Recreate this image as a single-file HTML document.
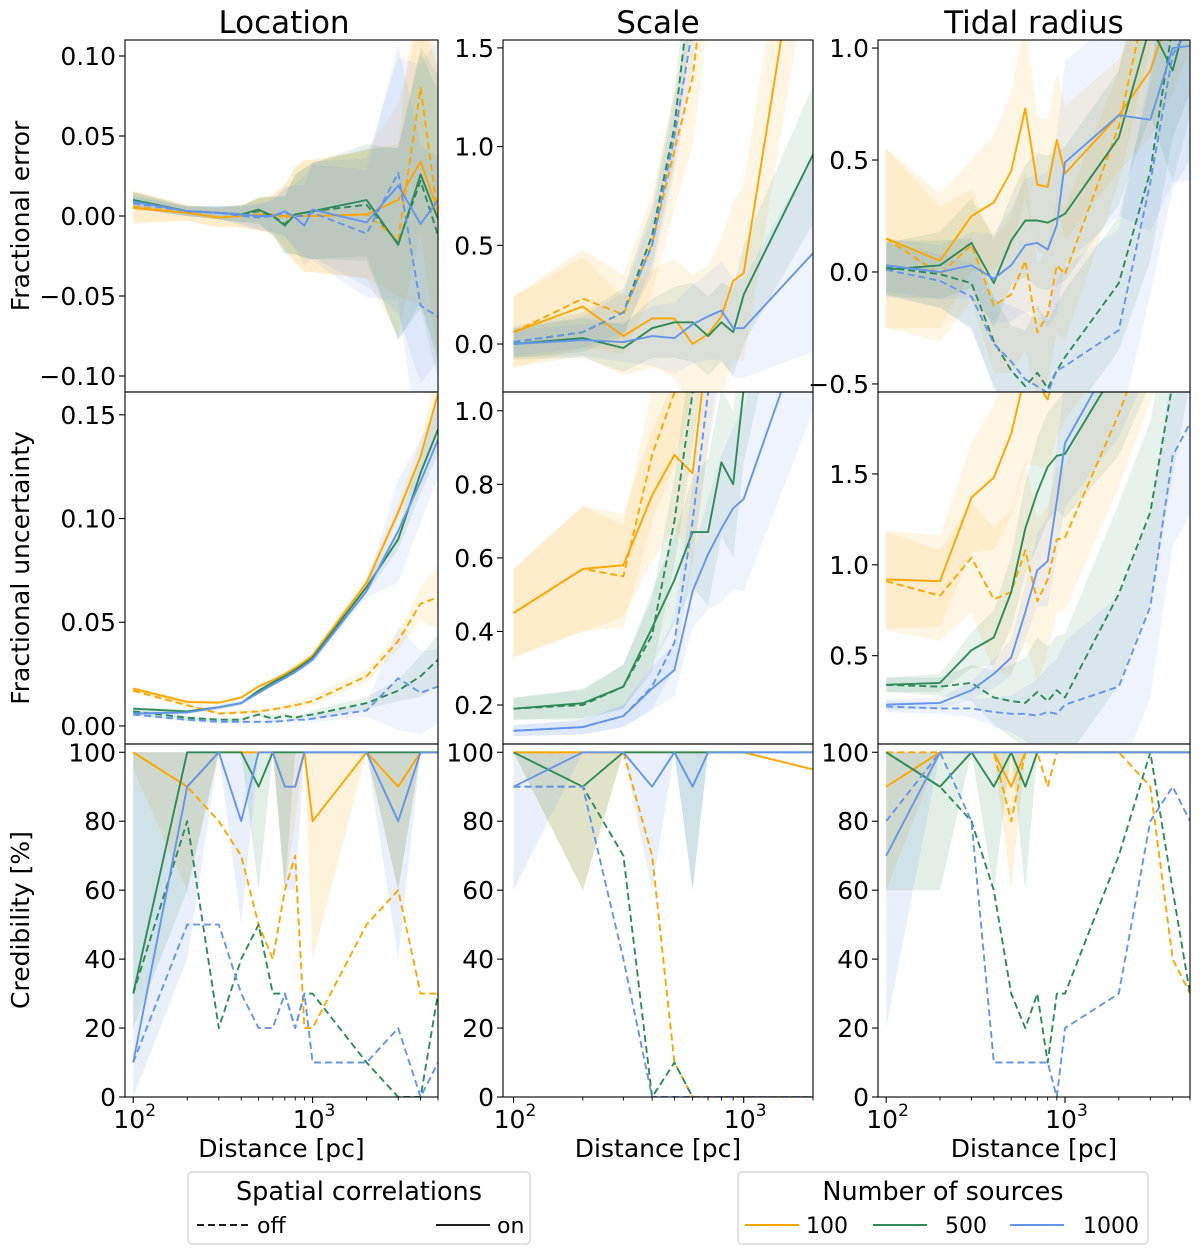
<!DOCTYPE html>
<html><head><meta charset="utf-8">
<style>
html,body{margin:0;padding:0;background:#fff;}
svg{display:block;font-family:"DejaVu Sans","Liberation Sans",sans-serif;}
</style></head>
<body>
<svg id="chart" width="1200" height="1254" viewBox="0 0 1200 1254" xmlns="http://www.w3.org/2000/svg">
<g id="layer"></g>
<g>
  <rect x="188" y="1172" width="342" height="72" rx="4" fill="#fff" stroke="#d0d0d0" stroke-width="1.2"/>
  <text x="359" y="1200" font-size="25.5" text-anchor="middle">Spatial correlations</text>
  <line x1="197" y1="1225" x2="251" y2="1225" stroke="#000" stroke-width="1.8" stroke-dasharray="7,4"/>
  <text x="257" y="1233" font-size="22">off</text>
  <line x1="436" y1="1225" x2="490" y2="1225" stroke="#000" stroke-width="1.8"/>
  <text x="497" y="1233" font-size="22">on</text>
</g>
<g>
  <rect x="738" y="1172" width="410" height="72" rx="4" fill="#fff" stroke="#d0d0d0" stroke-width="1.2"/>
  <text x="943" y="1200" font-size="25.5" text-anchor="middle">Number of sources</text>
  <line x1="745" y1="1225" x2="799" y2="1225" stroke="#FFA500" stroke-width="2"/>
  <text x="806" y="1233" font-size="22">100</text>
  <line x1="873" y1="1225" x2="927" y2="1225" stroke="#2E8B57" stroke-width="2"/>
  <text x="945" y="1233" font-size="22">500</text>
  <line x1="1010" y1="1225" x2="1064" y2="1225" stroke="#6495ED" stroke-width="2"/>
  <text x="1083" y="1233" font-size="22">1000</text>
</g>
</svg>
<script>
// ---------- data ----------
const distances = [100,200,300,400,500,600,700,800,900,1000,2000,3000,4000,5000];
const seriesKeys = ['100-on','100-off','500-on','500-off','1000-on','1000-off'];

// Location - fractional error
const locErr100On  = [0.005,0.002,-0.001,0.000,0.001,0.001,0.000,0.001,0.000,0.000,0.001,0.010,0.034,0.003];
const locErr100Off = [0.006,0.002,-0.001,0.000,0.001,0.001,-0.001,0.000,0.000,0.000,0.001,-0.015,0.080,0.000];
const locErr500On  = [0.010,0.003,0.002,0.001,0.004,0.000,-0.006,0.001,0.002,0.003,0.010,-0.018,0.026,-0.002];
const locErr500Off = [0.010,0.003,0.002,0.001,0.003,0.000,-0.005,0.001,0.002,0.003,0.007,-0.017,0.022,-0.012];
const locErr1000On = [0.009,0.003,0.002,0.001,0.000,0.000,0.003,-0.001,-0.006,0.004,-0.004,0.019,-0.005,0.010];
const locErr1000Off= [0.008,0.003,0.002,0.000,-0.001,0.000,0.002,0.000,0.000,0.002,-0.011,0.027,-0.056,-0.063];
const locErrW100  = [0.010,0.005,0.006,0.007,0.010,0.012,0.020,0.030,0.035,0.035,0.040,0.060,0.090,0.090];
const locErrW500  = [0.005,0.003,0.004,0.005,0.008,0.012,0.018,0.025,0.028,0.030,0.035,0.060,0.080,0.090];
const locErrW1000 = [0.004,0.003,0.004,0.006,0.008,0.010,0.015,0.020,0.025,0.030,0.040,0.080,0.100,0.100];

// Scale - fractional error
const sclErr100On  = [0.06,0.19,0.04,0.13,0.13,0.00,0.05,0.14,0.32,0.36,2.55,3.5,4,4.5];
const sclErr100Off = [0.06,0.23,0.15,0.51,0.98,1.35,2.0,2.5,3,3.5,5,6,7,8];
const sclErr500On  = [0.00,0.03,-0.02,0.08,0.11,0.11,0.04,0.11,0.06,0.25,0.96,1.3,1.6,1.8];
const sclErr500Off = [0.01,0.06,0.16,0.55,1.10,1.90,2.6,3,3.5,4,5,6,7,8];
const sclErr1000On = [0.00,0.02,0.01,0.04,0.03,0.10,0.14,0.17,0.08,0.08,0.46,0.9,1.1,1.3];
const sclErr1000Off= [0.01,0.06,0.16,0.50,1.05,1.60,2.4,3,3.5,4,5,6,7,8];
const sclErrW100  = [0.18,0.25,0.20,0.25,0.30,0.35,0.35,0.40,0.40,0.45,0.50,0.60,0.60,0.60];
const sclErrW500  = [0.08,0.10,0.12,0.15,0.18,0.20,0.20,0.20,0.22,0.25,0.35,0.40,0.50,0.50];
const sclErrW1000 = [0.07,0.08,0.10,0.15,0.18,0.20,0.22,0.25,0.25,0.25,0.50,0.60,0.70,0.70];

// Tidal radius - fractional error
const tidErr100On  = [0.15,0.05,0.25,0.31,0.45,0.73,0.39,0.38,0.59,0.44,0.70,0.90,1.20,1.40];
const tidErr100Off = [0.15,-0.01,0.12,-0.15,-0.10,0.05,-0.27,-0.19,0.03,-0.01,0.65,1.30,1.60,1.80];
const tidErr500On  = [0.01,0.03,0.13,-0.05,0.14,0.23,0.23,0.22,0.24,0.26,0.60,1.10,0.90,1.20];
const tidErr500Off = [0.02,-0.01,-0.05,-0.31,-0.44,-0.51,-0.45,-0.52,-0.44,-0.38,-0.05,0.45,1.10,1.30];
const tidErr1000On = [0.03,0.00,0.03,-0.03,0.03,0.12,0.13,0.10,0.21,0.49,0.70,0.68,1.00,1.01];
const tidErr1000Off= [0.01,-0.04,-0.11,-0.32,-0.40,-0.48,-0.51,-0.54,-0.44,-0.42,-0.26,0.40,0.97,1.10];
const tidErrW100  = [0.40,0.30,0.25,0.30,0.35,0.40,0.30,0.30,0.30,0.30,0.25,0.30,0.40,0.40];
const tidErrW500  = [0.12,0.15,0.20,0.20,0.20,0.25,0.30,0.30,0.30,0.30,0.30,0.40,0.50,0.50];
const tidErrW1000 = [0.12,0.12,0.15,0.20,0.25,0.30,0.30,0.35,0.40,0.45,0.45,0.50,0.60,0.60];

// Location - fractional uncertainty
const locUnc100On  = [0.018,0.0116,0.0112,0.0137,0.019,0.022,0.025,0.028,0.031,0.034,0.069,0.103,0.130,0.160];
const locUnc100Off = [0.017,0.010,0.006,0.0065,0.007,0.008,0.009,0.010,0.011,0.012,0.024,0.041,0.059,0.062];
const locUnc500On  = [0.0083,0.007,0.009,0.011,0.017,0.021,0.024,0.027,0.030,0.033,0.067,0.090,0.122,0.143];
const locUnc500Off = [0.007,0.004,0.003,0.003,0.0055,0.0035,0.005,0.004,0.005,0.0055,0.011,0.017,0.024,0.032];
const locUnc1000On = [0.006,0.0065,0.009,0.011,0.016,0.020,0.023,0.026,0.029,0.032,0.065,0.094,0.118,0.138];
const locUnc1000Off= [0.0055,0.003,0.002,0.002,0.002,0.002,0.0025,0.003,0.003,0.0035,0.0075,0.023,0.016,0.019];
const locUncW100  = [0.001,0.001,0.001,0.001,0.001,0.001,0.001,0.002,0.002,0.002,0.003,0.004,0.008,0.016];
const locUncW500  = [0.001,0.001,0.001,0.001,0.001,0.002,0.001,0.001,0.001,0.002,0.003,0.005,0.010,0.012];
const locUncW1000 = [0.001,0.001,0.001,0.001,0.001,0.001,0.001,0.001,0.001,0.002,0.003,0.025,0.020,0.018];

// Scale - fractional uncertainty
const sclUnc100On  = [0.45,0.57,0.58,0.77,0.88,0.83,1.2,1.5,1.7,1.9,2.5,3,3,3];
const sclUnc100Off = [0.45,0.57,0.55,0.88,1.05,1.3,1.6,1.8,2,2.2,3,3,3,3];
const sclUnc500On  = [0.19,0.205,0.25,0.41,0.54,0.67,0.67,0.86,0.80,1.06,2.0,2.5,3,3];
const sclUnc500Off = [0.19,0.20,0.25,0.39,0.70,1.05,1.4,1.7,2,2.2,3,3,3,3];
const sclUnc1000On = [0.13,0.14,0.17,0.245,0.295,0.51,0.61,0.68,0.735,0.76,1.3,1.8,2,2];
const sclUnc1000Off= [0.13,0.14,0.17,0.25,0.37,0.70,1.05,1.3,1.5,1.7,2.5,3,3,3];
const sclUncW100  = [0.12,0.17,0.14,0.18,0.20,0.25,0.30,0.30,0.30,0.30,0.40,0.40,0.40,0.40];
const sclUncW500  = [0.03,0.04,0.06,0.10,0.12,0.15,0.20,0.20,0.20,0.20,0.30,0.30,0.30,0.30];
const sclUncW1000 = [0.015,0.02,0.03,0.06,0.07,0.10,0.15,0.20,0.22,0.25,0.30,0.30,0.30,0.30];

// Tidal radius - fractional uncertainty
const tidUnc100On  = [0.92,0.91,1.37,1.48,1.72,2.05,2.00,1.91,2.10,2.20,2.60,3.00,3.20,3.40];
const tidUnc100Off = [0.91,0.83,1.04,0.81,0.85,1.08,0.80,0.92,1.14,1.15,1.83,2.30,2.60,2.80];
const tidUnc500On  = [0.34,0.35,0.53,0.60,0.85,1.20,1.40,1.54,1.60,1.61,2.10,2.50,2.80,3.00];
const tidUnc500Off = [0.34,0.33,0.35,0.27,0.25,0.24,0.30,0.25,0.31,0.27,0.84,1.29,2.00,2.50];
const tidUnc1000On = [0.23,0.24,0.31,0.40,0.49,0.74,0.97,1.02,1.35,1.67,2.20,2.60,2.80,3.00];
const tidUnc1000Off= [0.22,0.21,0.21,0.19,0.18,0.18,0.17,0.19,0.18,0.23,0.33,0.77,1.60,1.78];
const tidUncW100  = [0.27,0.25,0.30,0.40,0.45,0.50,0.45,0.40,0.40,0.40,0.40,0.40,0.40,0.40];
const tidUncW500  = [0.04,0.05,0.10,0.15,0.20,0.25,0.30,0.30,0.30,0.35,0.50,0.50,0.50,0.50];
const tidUncW1000 = [0.03,0.03,0.05,0.08,0.10,0.15,0.20,0.25,0.30,0.35,0.50,0.50,0.50,0.50];

// Credibility [%]
const locCred100On  = [100,90,100,100,100,100,90,90,100,80,100,90,100,100];
const locCred100Off = [100,90,80,70,50,40,60,70,20,20,50,60,30,30];
const locCred500On  = [30,100,100,100,90,100,100,100,100,100,100,100,100,100];
const locCred500Off = [30,80,20,40,50,30,30,20,30,30,10,0,0,30];
const locCred1000On = [10,90,100,80,100,100,90,90,100,100,100,80,100,100];
const locCred1000Off= [10,50,50,30,20,20,30,20,30,10,10,20,0,10];
const locCredLo100  = [95,60,100,100,100,100,60,80,100,40,100,60,100,100];
const locCredLo500  = [20,60,100,100,60,100,60,100,100,100,100,60,100,100];
const locCredLo1000 = [0,40,100,50,100,100,60,60,100,100,100,40,100,100];

const sclCred100On  = [100,100,100,100,100,100,100,100,100,100,95,100,100,100];
const sclCred100Off = [100,100,100,70,10,0,0,0,0,0,0,0,0,0];
const sclCred500On  = [100,90,100,100,100,100,100,100,100,100,100,100,100,100];
const sclCred500Off = [90,90,70,0,10,0,0,0,0,0,0,0,0,0];
const sclCred1000On = [90,100,100,90,100,90,100,100,100,100,100,100,100,100];
const sclCred1000Off= [90,90,40,0,0,0,0,0,0,0,0,0,0,0];
const sclCredLo100  = [100,60,100,100,100,100,100,100,100,100,100,100,100,100];
const sclCredLo500  = [100,60,100,100,100,60,100,100,100,100,100,100,100,100];
const sclCredLo1000 = [60,100,100,60,100,60,100,100,100,100,100,100,100,100];

const tidCred100On  = [90,100,100,100,90,100,100,100,100,100,100,100,100,100];
const tidCred100Off = [100,100,100,100,80,100,100,90,100,100,100,90,40,30];
const tidCred500On  = [100,90,100,90,100,90,100,100,100,100,100,100,100,100];
const tidCred500Off = [100,90,80,60,30,20,30,10,30,30,70,100,60,30];
const tidCred1000On = [70,100,100,100,100,100,100,100,100,100,100,100,100,100];
const tidCred1000Off= [80,100,80,10,10,10,10,10,0,20,30,80,90,80];
const tidCredLo100  = [60,100,100,100,60,100,100,100,100,100,100,100,100,100];
const tidCredLo500  = [60,60,100,60,100,60,100,100,100,100,100,100,100,100];
const tidCredLo1000 = [20,100,100,100,100,100,100,100,100,100,100,100,100,100];

const yTicksLocErr = [-0.10,-0.05,0.00,0.05,0.10];
const yTickLabelsLocErr = ['\u22120.10','\u22120.05','0.00','0.05','0.10'];
const yTicksSclErr = [0.0,0.5,1.0,1.5];
const yTickLabelsSclErr = ['0.0','0.5','1.0','1.5'];
const yTicksTidErr = [-0.5,0.0,0.5,1.0];
const yTickLabelsTidErr = ['\u22120.5','0.0','0.5','1.0'];
const yTicksLocUnc = [0.00,0.05,0.10,0.15];
const yTickLabelsLocUnc = ['0.00','0.05','0.10','0.15'];
const yTicksSclUnc = [0.2,0.4,0.6,0.8,1.0];
const yTickLabelsSclUnc = ['0.2','0.4','0.6','0.8','1.0'];
const yTicksTidUnc = [0.5,1.0,1.5];
const yTickLabelsTidUnc = ['0.5','1.0','1.5'];
const yTicksCred = [0,20,40,60,80,100];
const yTickLabelsCred = ['0','20','40','60','80','100'];
const xMajorTicks = [100,1000];
const xMajorExp = ['2','3'];
const xMinorTicks = [200,300,400,500,600,700,800,900,2000,3000,4000,5000];

// ---------- drawing ----------
const NS = 'http://www.w3.org/2000/svg';
const layer = document.getElementById('layer');
const colors = {'100':'#FFA500','500':'#2E8B57','1000':'#6495ED'};
const cols = [{x0:125,x1:438,d0:90,d1:5000},{x0:503,x1:813,d0:90,d1:2000},{x0:878,x1:1190,d0:90,d1:5000}];
const rows = [{y0:40,y1:392},{y0:392,y1:744},{y0:744,y1:1097}];

function mk(tag, attrs, parent){
  const e = document.createElementNS(NS, tag);
  for (const k in attrs) e.setAttribute(k, attrs[k]);
  (parent||layer).appendChild(e);
  return e;
}

const panels = [
  {r:0,c:0,name:'location-error',ymin:-0.11,ymax:0.11,ticks:yTicksLocErr,labels:yTickLabelsLocErr,
   series:[locErr100On,locErr100Off,locErr500On,locErr500Off,locErr1000On,locErr1000Off],widths:[locErrW100,locErrW500,locErrW1000]},
  {r:0,c:1,name:'scale-error',ymin:-0.243,ymax:1.54,ticks:yTicksSclErr,labels:yTickLabelsSclErr,
   series:[sclErr100On,sclErr100Off,sclErr500On,sclErr500Off,sclErr1000On,sclErr1000Off],widths:[sclErrW100,sclErrW500,sclErrW1000]},
  {r:0,c:2,name:'tidal-radius-error',ymin:-0.536,ymax:1.036,ticks:yTicksTidErr,labels:yTickLabelsTidErr,
   series:[tidErr100On,tidErr100Off,tidErr500On,tidErr500Off,tidErr1000On,tidErr1000Off],widths:[tidErrW100,tidErrW500,tidErrW1000]},
  {r:1,c:0,name:'location-uncertainty',ymin:-0.0087,ymax:0.161,ticks:yTicksLocUnc,labels:yTickLabelsLocUnc,
   series:[locUnc100On,locUnc100Off,locUnc500On,locUnc500Off,locUnc1000On,locUnc1000Off],widths:[locUncW100,locUncW500,locUncW1000]},
  {r:1,c:1,name:'scale-uncertainty',ymin:0.094,ymax:1.051,ticks:yTicksSclUnc,labels:yTickLabelsSclUnc,
   series:[sclUnc100On,sclUnc100Off,sclUnc500On,sclUnc500Off,sclUnc1000On,sclUnc1000Off],widths:[sclUncW100,sclUncW500,sclUncW1000]},
  {r:1,c:2,name:'tidal-radius-uncertainty',ymin:0.014,ymax:1.951,ticks:yTicksTidUnc,labels:yTickLabelsTidUnc,
   series:[tidUnc100On,tidUnc100Off,tidUnc500On,tidUnc500Off,tidUnc1000On,tidUnc1000Off],widths:[tidUncW100,tidUncW500,tidUncW1000]},
  {r:2,c:0,name:'location-credibility',ymin:0,ymax:102.4,ticks:yTicksCred,labels:yTickLabelsCred,cred:true,
   series:[locCred100On,locCred100Off,locCred500On,locCred500Off,locCred1000On,locCred1000Off],los:[locCredLo100,locCredLo500,locCredLo1000]},
  {r:2,c:1,name:'scale-credibility',ymin:0,ymax:102.4,ticks:yTicksCred,labels:yTickLabelsCred,cred:true,
   series:[sclCred100On,sclCred100Off,sclCred500On,sclCred500Off,sclCred1000On,sclCred1000Off],los:[sclCredLo100,sclCredLo500,sclCredLo1000]},
  {r:2,c:2,name:'tidal-radius-credibility',ymin:0,ymax:102.4,ticks:yTicksCred,labels:yTickLabelsCred,cred:true,
   series:[tidCred100On,tidCred100Off,tidCred500On,tidCred500Off,tidCred1000On,tidCred1000Off],los:[tidCredLo100,tidCredLo500,tidCredLo1000]}
];

const defs = mk('defs', {});
const sizes = ['100','500','1000'];

panels.forEach((p, pi) => {
  const C = cols[p.c], R = rows[p.r];
  const xs = v => C.x0 + (Math.log10(v) - Math.log10(C.d0)) / (Math.log10(C.d1) - Math.log10(C.d0)) * (C.x1 - C.x0);
  const ys = v => R.y1 - (v - p.ymin) / (p.ymax - p.ymin) * (R.y1 - R.y0);
  const cp = mk('clipPath', {id:'clip'+pi}, defs);
  mk('rect', {x:C.x0, y:R.y0, width:C.x1-C.x0, height:R.y1-R.y0}, cp);

  const g = mk('g', {'clip-path':'url(#clip'+pi+')'});
  
  

  sizes.forEach((s, ci) => {
    const onIdx = ci*2, offIdx = ci*2+1;
    const bandSets = [];
    if (p.cred) {
      const lo = p.los[ci];
      bandSets.push({lo: lo, hi: distances.map(() => 100), key: s+'-on'});
    } else {
      const w = p.widths[ci];
      [onIdx, offIdx].forEach(si => {
        const ctr = p.series[si];
        bandSets.push({lo: ctr.map((v,i) => v - w[i]), hi: ctr.map((v,i) => v + w[i]), key: seriesKeys[si]});
      });
    }
    bandSets.forEach(b => {
      const top = distances.map((d,i) => xs(d).toFixed(1)+','+ys(b.hi[i]).toFixed(1));
      const bot = distances.map((d,i) => xs(d).toFixed(1)+','+ys(b.lo[i]).toFixed(1)).reverse();
      const poly = mk('polygon', {points: top.concat(bot).join(' '), fill: colors[s], 'fill-opacity': p.cred ? 0.14 : 0.11, stroke:'none'}, g);
      
      
    });
  });

  p.series.forEach((arr, si) => {
    const s = sizes[Math.floor(si/2)];
    const dashed = si % 2 === 1;
    const pts = distances.map((d,i) => xs(d).toFixed(1)+','+ys(arr[i]).toFixed(1)).join(' ');
    const attrs = {points: pts, fill:'none', stroke: colors[s], 'stroke-width': 1.9, 'stroke-linejoin':'round'};
    if (dashed) attrs['stroke-dasharray'] = '7,4';
    const pl = mk('polyline', attrs, g);
    
    
  });

  const fr = mk('rect', {x:C.x0, y:R.y0, width:C.x1-C.x0, height:R.y1-R.y0, fill:'none', stroke:'#000', 'stroke-width':1.1});
  
  

  p.ticks.forEach((t, ti) => {
    const y = ys(t);
    mk('line', {x1:C.x0-6, y1:y, x2:C.x0, y2:y, stroke:'#000', 'stroke-width':1.1});
    const tx = mk('text', {x:C.x0-9, y:y+9, 'font-size':25, 'text-anchor':'end'});
    tx.textContent = p.labels[ti];
    
    
  });

  if (p.r === 2) {
    xMajorTicks.forEach((t, ti) => {
      const x = xs(t);
      mk('line', {x1:x, y1:R.y1, x2:x, y2:R.y1+6, stroke:'#000', 'stroke-width':1.1});
      const tx = mk('text', {x:x-4, y:R.y1+31, 'font-size':25, 'text-anchor':'middle'});
      tx.textContent = '10';
      
      
      const sup = mk('text', {x:x+12, y:R.y1+19, 'font-size':17});
      sup.textContent = xMajorExp[ti];
      
      
    });
    xMinorTicks.forEach(t => {
      if (t > C.d1) return;
      const x = xs(t);
      mk('line', {x1:x, y1:R.y1, x2:x, y2:R.y1+3.5, stroke:'#000', 'stroke-width':0.9});
    });
    const xl = mk('text', {x:(C.x0+C.x1)/2, y:1157, 'font-size':25, 'text-anchor':'middle'});
    xl.textContent = 'Distance [pc]';
    
    
  }
});

[['Location',284],['Scale',658],['Tidal radius',1034]].forEach(t => {
  const e = mk('text', {x:t[1], y:33, 'font-size':31, 'text-anchor':'middle'});
  e.textContent = t[0];
  
  
});
[['Fractional error',216],['Fractional uncertainty',568],['Credibility [%]',920]].forEach(t => {
  const e = mk('text', {x:0, y:0, 'font-size':25, 'text-anchor':'middle', transform:'translate(29,'+t[1]+') rotate(-90)'});
  e.textContent = t[0];
  
  
});
</script>
</body></html>
